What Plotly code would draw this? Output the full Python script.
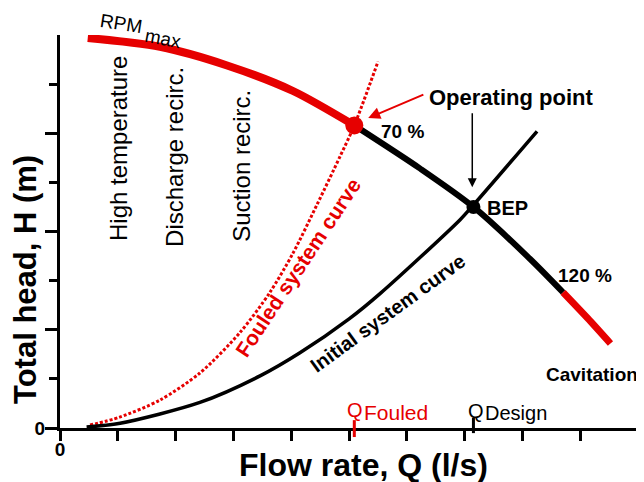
import plotly.graph_objects as go

# ---- data (arbitrary units) ----
PUMP_Q = [0.48, 1.73, 2.89, 4.03, 5.09, 6.23, 7.15, 8.13, 8.70, 9.12, 9.52]
PUMP_H = [3.97, 3.88, 3.69, 3.43, 3.08, 2.64, 2.25, 1.72, 1.38, 1.12, 0.86]
INIT_Q = [0.46, 1.04, 2.42, 3.46, 4.15, 5.00, 5.54, 6.92, 7.15, 8.25]
INIT_H = [0.01, 0.048, 0.26, 0.53, 0.765, 1.11, 1.37, 2.12, 2.27, 3.02]
FOUL_Q = [0.52, 1.03, 1.73, 2.42, 3.11, 3.63, 4.03, 4.45, 4.84, 5.09, 5.50]
FOUL_H = [0.03, 0.11, 0.285, 0.56, 0.97, 1.38, 1.78, 2.28, 2.76, 3.08, 3.73]
OP_Q, OP_H = 5.09, 3.08      # operating point (fouled)
BEP_Q, BEP_H = 7.15, 2.25    # best efficiency point (design)
X_TICKS = list(range(0, 10))
X_TICKTEXT = ["0"] + [""] * 9
Y_TICKS = [0, 1, 2, 3]
Y_TICKTEXT = ["0", "", "", ""]
Y_MINOR = [0.5, 1.5, 2.5, 3.5]

RED = "#e60000"
BLACK = "#000000"
FONT = "Liberation Sans"

fig = go.Figure()

# fouled system curve (dotted red)
fig.add_trace(go.Scatter(x=FOUL_Q, y=FOUL_H, mode="lines",
                         line=dict(color=RED, width=3, dash="3px,2px", shape="spline", smoothing=0.8),
                         hoverinfo="skip", showlegend=False))
# initial system curve
fig.add_trace(go.Scatter(x=INIT_Q, y=INIT_H, mode="lines",
                         line=dict(color=BLACK, width=3.5, shape="spline", smoothing=0.8),
                         hoverinfo="skip", showlegend=False))
# pump curve segments
fig.add_trace(go.Scatter(x=PUMP_Q[0:5], y=PUMP_H[0:5], mode="lines",
                         line=dict(color=RED, width=8, shape="spline", smoothing=0.8),
                         hoverinfo="skip", showlegend=False))
fig.add_trace(go.Scatter(x=PUMP_Q[4:9], y=PUMP_H[4:9], mode="lines",
                         line=dict(color=BLACK, width=6, shape="spline", smoothing=0.8),
                         hoverinfo="skip", showlegend=False))
fig.add_trace(go.Scatter(x=PUMP_Q[8:], y=PUMP_H[8:], mode="lines",
                         line=dict(color=RED, width=7, shape="spline", smoothing=0.8),
                         hoverinfo="skip", showlegend=False))
# points
fig.add_trace(go.Scatter(x=[OP_Q], y=[OP_H], mode="markers",
                         marker=dict(color=RED, size=18), hoverinfo="skip", showlegend=False))
fig.add_trace(go.Scatter(x=[BEP_Q], y=[BEP_H], mode="markers",
                         marker=dict(color=BLACK, size=14), hoverinfo="skip", showlegend=False))

# special Q ticks on the x axis
fig.add_shape(type="line", xref="x", yref="paper", x0=OP_Q, x1=OP_Q, y0=0.02, y1=-0.023,
              line=dict(color=RED, width=3))
fig.add_shape(type="line", xref="x", yref="paper", x0=BEP_Q, x1=BEP_Q, y0=0.026, y1=-0.013,
              line=dict(color=BLACK, width=3))

def ann(text, x, y, size=15, color=BLACK, angle=0, bold=True, ref="x"):
    t = f"<b>{text}</b>" if bold else text
    fig.add_annotation(text=t, x=x, y=y, xref=ref, yref=ref.replace("x", "y"), showarrow=False,
                       xanchor="center", yanchor="middle",
                       textangle=angle, font=dict(family=FONT, size=size, color=color))

ann("RPM", 0.1045, 1.028, size=19, angle=9, bold=False, ref="paper")
ann("max", 0.176, 0.992, size=19, angle=11, bold=False, ref="paper")
ann("High temperature", 1.02, 2.85, size=24, angle=-90, bold=False)
ann("Discharge recirc.", 1.99, 2.76, size=24, angle=-90, bold=False)
ann("Suction recirc.", 3.15, 2.67, size=24, angle=-90, bold=False)
ann("Fouled system curve", 4.12, 1.63, size=21, color=RED, angle=-56.5)
ann("Initial system curve", 5.67, 1.17, size=20, angle=-36)
ann("Operating point", 7.80, 3.36, size=22)
ann("70 %", 5.93, 3.02, size=19)
ann("BEP", 7.74, 2.24, size=20)
ann("120 %", 9.08, 1.55, size=19)
ann("Cavitation", 9.20, 0.54, size=19)
ann("Q", 5.11, 0.18, size=20, color=RED, bold=False)
ann("Fouled", 5.81, 0.155, size=21, color=RED, bold=False)
ann("Q", 7.20, 0.175, size=20, bold=False)
ann("Design", 7.89, 0.15, size=20, bold=False)

# axis titles
ann("Flow rate, Q (l/s)", 0.519, -0.094, size=32, ref="paper")
ann("Total head, H (m)", -0.058, 0.377, size=31, angle=-90, ref="paper")

# arrows
fig.add_annotation(x=5.33, y=3.155, ax=6.31, ay=3.40, xref="x", yref="y", axref="x", ayref="y",
                   text="", showarrow=True, arrowhead=2, arrowsize=1.2, arrowwidth=2, arrowcolor=RED)
fig.add_annotation(x=BEP_Q - 0.02, y=2.45, ax=BEP_Q - 0.02, ay=3.22, xref="x", yref="y", axref="x", ayref="y",
                   text="", showarrow=True, arrowhead=2, arrowsize=1.2, arrowwidth=1.5, arrowcolor=BLACK)

# the page body has an 8 px margin, so the figure is 8 px smaller than the window
fig.update_layout(
    width=636, height=474,
    margin=dict(l=52, r=0, t=27, b=54),
    paper_bgcolor="white", plot_bgcolor="white",
    font=dict(family=FONT, color=BLACK),
    xaxis=dict(range=[0, 10.1], showgrid=False, zeroline=False, automargin=False,
               showline=True, linewidth=3, linecolor=BLACK,
               ticks="outside", ticklen=10, tickwidth=3, tickcolor=BLACK,
               tickvals=X_TICKS, ticktext=X_TICKTEXT, ticklabelstandoff=-8,
               tickfont=dict(family=FONT, size=19, color=BLACK, weight="bold")),
    yaxis=dict(range=[0, 4.0], showgrid=False, zeroline=False, automargin=False,
               showline=True, linewidth=3, linecolor=BLACK,
               ticks="outside", ticklen=12, tickwidth=3, tickcolor=BLACK,
               tickvals=Y_TICKS, ticktext=Y_TICKTEXT, ticklabelstandoff=-4,
               tickfont=dict(family=FONT, size=19, color=BLACK, weight="bold"),
               minor=dict(tickvals=Y_MINOR, ticks="outside", ticklen=8, tickwidth=3, tickcolor=BLACK)),
)

fig.write_html("out.html")
